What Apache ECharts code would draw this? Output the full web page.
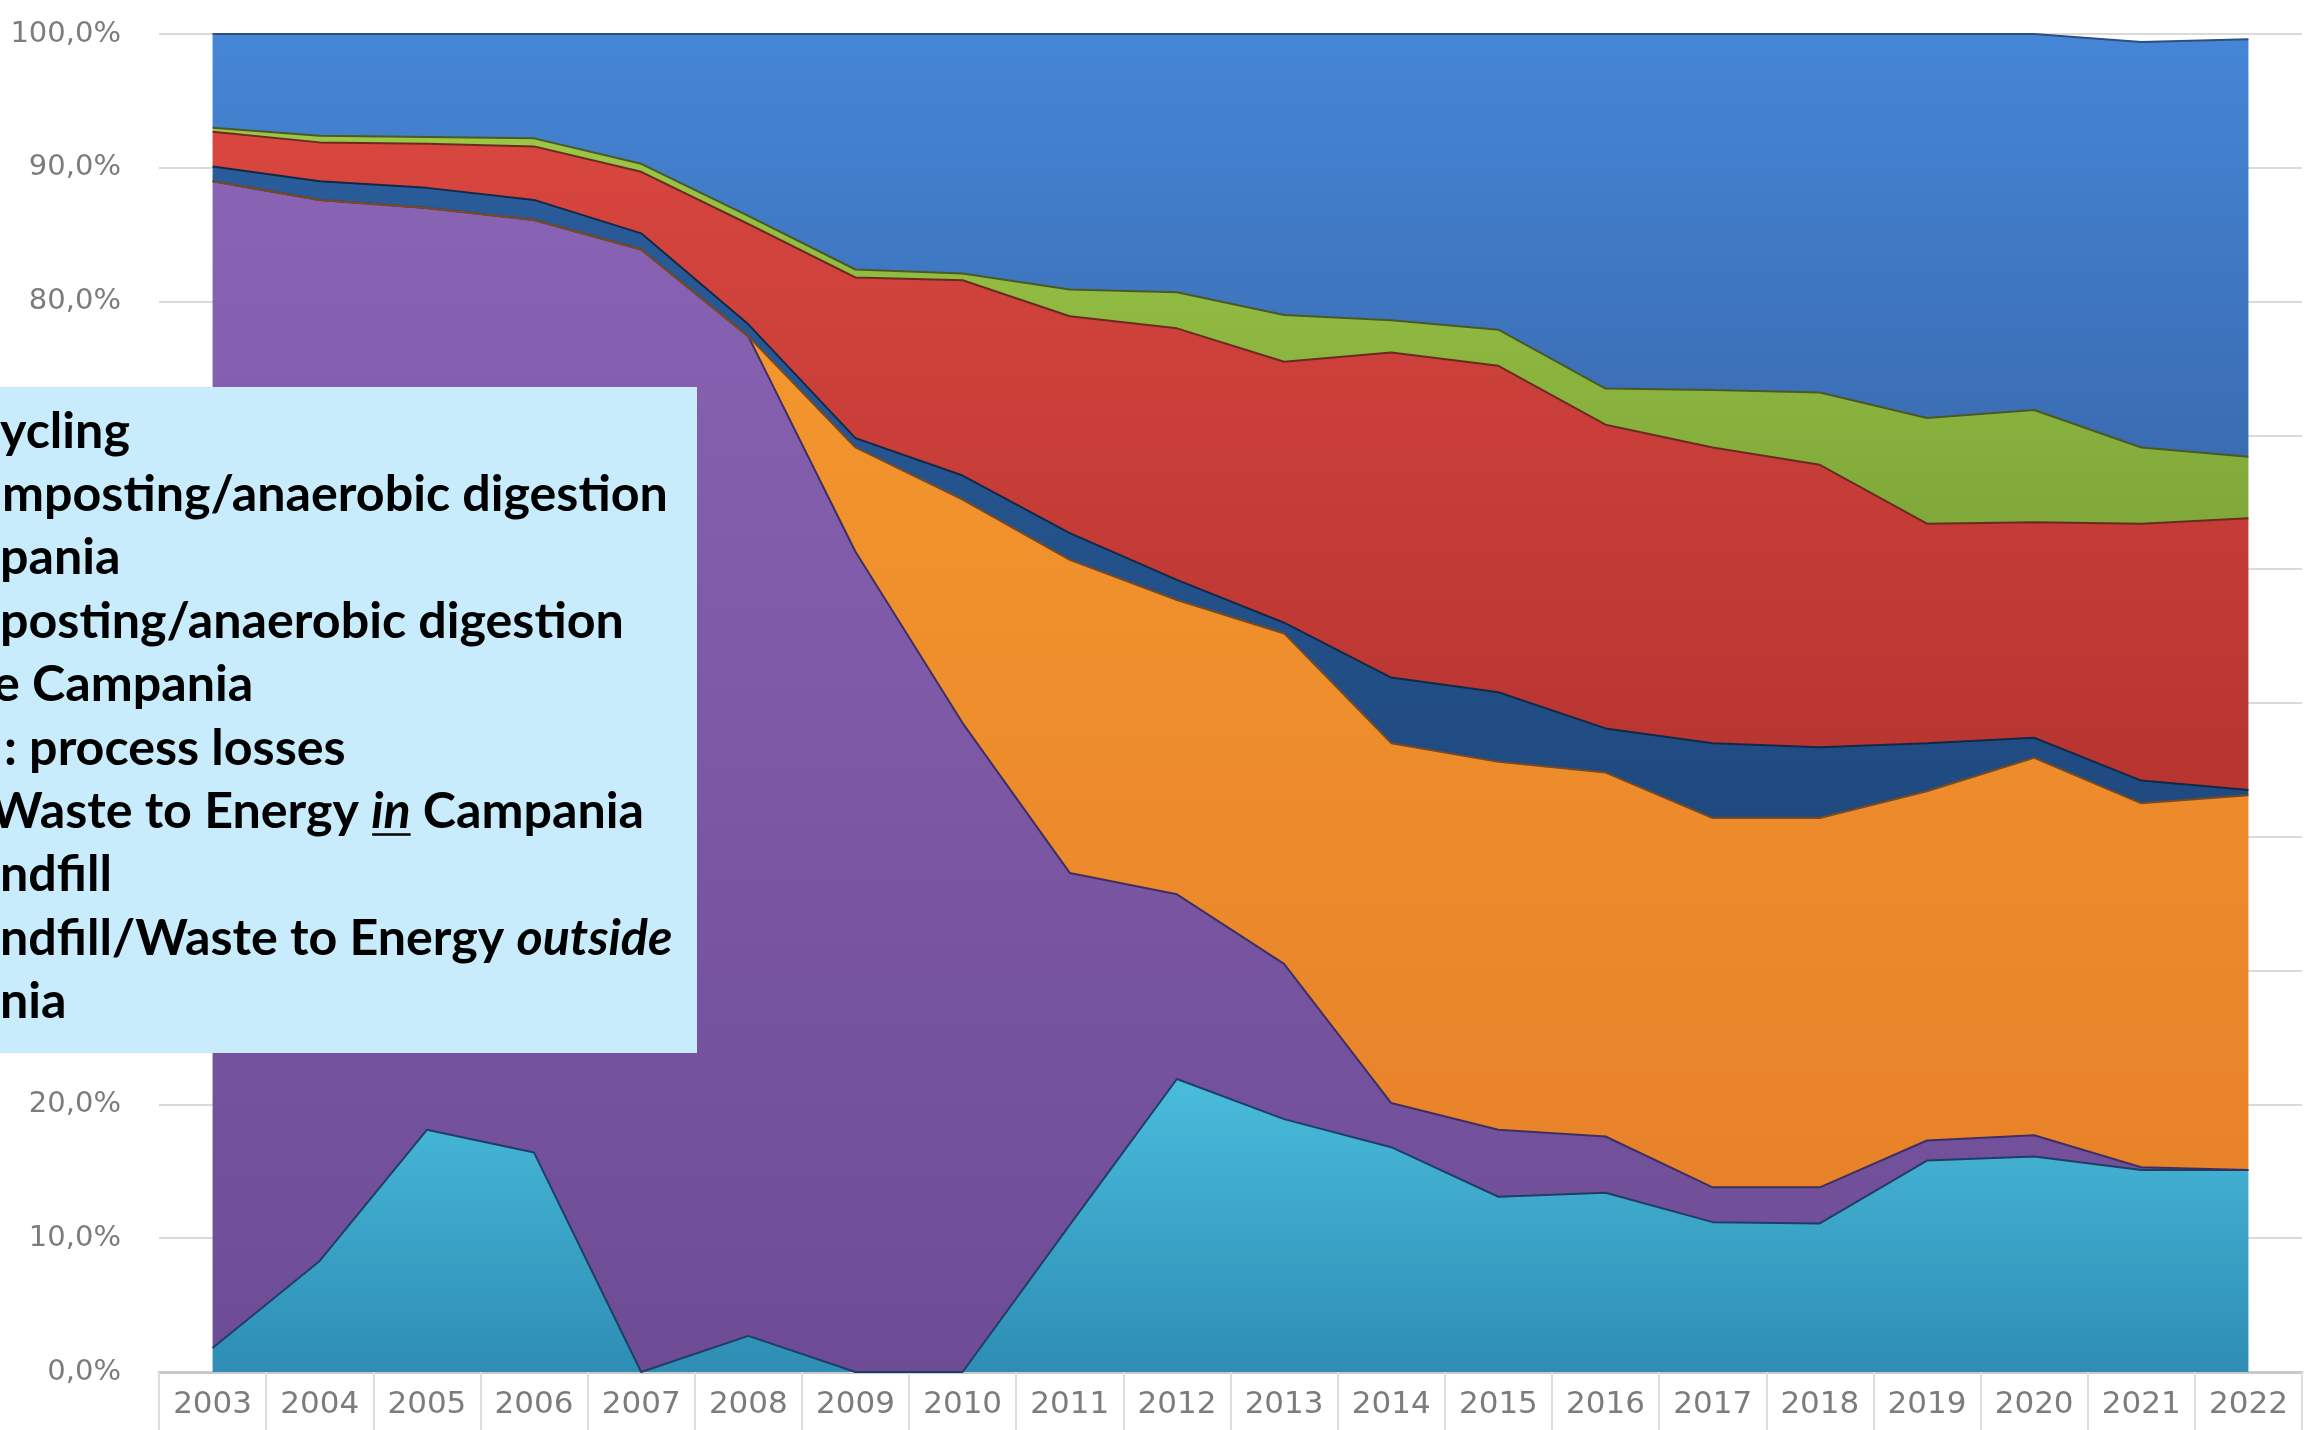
<!DOCTYPE html>
<html>
<head>
<meta charset="utf-8">
<script src="https://cdn.jsdelivr.net/npm/echarts@6/dist/echarts.min.js"></script>
<style>
html,body{margin:0;padding:0;background:#fff;}
#chart{width:2305px;height:1430px;}
</style>
</head>
<body>
<div id="chart"></div>
<script>
// ---------- data ----------
const years = ['2003','2004','2005','2006','2007','2008','2009','2010','2011','2012','2013','2014','2015','2016','2017','2018','2019','2020','2021','2022'];
const yTickLabels = ['0,0%','10,0%','20,0%','30,0%','40,0%','50,0%','60,0%','70,0%','80,0%','90,0%','100,0%'];

// stacked from bottom to top (percent of total)
const outsideCampania = [1.8, 8.3, 18.1, 16.4, 0, 2.7, 0, 0, 11.0, 21.9, 18.9, 16.8, 13.1, 13.4, 11.2, 11.1, 15.8, 16.1, 15.1, 15.1];
const landfill        = [87.2, 79.3, 68.9, 69.7, 83.9, 74.7, 61.3, 48.5, 26.3, 13.8, 11.6, 3.3, 5.0, 4.2, 2.6, 2.7, 1.5, 1.6, 0.2, 0];
const wteCampania     = [0, 0, 0, 0, 0, 0, 7.8, 16.7, 23.4, 22.0, 24.7, 26.9, 27.5, 27.2, 27.6, 27.6, 26.1, 28.2, 27.2, 28.0];
const processLosses   = [1.1, 1.4, 1.5, 1.5, 1.2, 0.9, 0.7, 1.8, 2.0, 1.5, 0.8, 4.9, 5.2, 3.3, 5.6, 5.3, 3.6, 1.5, 1.7, 0.4];
const compostOutside  = [2.6, 2.9, 3.3, 4.0, 4.6, 7.5, 12.0, 14.6, 16.2, 18.8, 19.5, 24.3, 24.4, 22.7, 22.1, 21.1, 16.4, 16.1, 19.2, 20.3];
const compostInside   = [0.3, 0.5, 0.5, 0.6, 0.6, 0.6, 0.6, 0.5, 2.0, 2.7, 3.5, 2.4, 2.7, 2.7, 4.3, 5.4, 7.9, 8.4, 5.7, 4.6];
const recycling       = [7.0, 7.6, 7.7, 7.8, 9.7, 13.6, 17.6, 17.9, 19.1, 19.3, 21.0, 21.4, 22.1, 26.5, 26.6, 26.8, 28.7, 28.1, 30.3, 31.2];

// visible (cropped) legend lines of the overlay box
const legendLines = [
  [['ycling', '']],
  [['mposting/anaerobic digestion', '']],
  [['pania', '']],
  [['posting/anaerobic digestion', '']],
  [['e Campania', '']],
  [[': process losses', '']],
  [['Waste to Energy ', ''], ['in', 'iu'], [' Campania', '']],
  [['ndfill', '']],
  [['ndfill/Waste to Energy ', ''], ['outside', 'i']],
  [['nia', '']]
];

// ---------- styling ----------
const FONT = 'Lato';
const lineOffsets = [0, 2, 0, 0, -7, 4, -10, 0, 0, 0];
const firstBaseline = 449, lineStep = 63.4;

function grad(top, bottom) {
  return new echarts.graphic.LinearGradient(0, 0, 0, 1, [
    { offset: 0, color: top }, { offset: 1, color: bottom }
  ]);
}

const seriesDefs = [
  { name: 'Landfill/Waste to Energy outside Campania', data: outsideCampania, top: '#49BCDC', bottom: '#2E8DB4', line: '#1d3f66' },
  { name: 'Landfill', data: landfill, top: '#8963B4', bottom: '#6E4C95', line: '#3e2f62' },
  { name: 'Waste to Energy in Campania', data: wteCampania, top: '#F59A2E', bottom: '#E8822A', line: '#7a4a20' },
  { name: 'process losses', data: processLosses, top: '#2A5C99', bottom: '#1F4A80', line: '#0f2a48' },
  { name: 'Composting/anaerobic digestion outside Campania', data: compostOutside, top: '#D8463F', bottom: '#B73431', line: '#6a2a22' },
  { name: 'Composting/anaerobic digestion in Campania', data: compostInside, top: '#9CC746', bottom: '#80A83A', line: '#4b5a22' },
  { name: 'Recycling', data: recycling, top: '#4586D6', bottom: '#3A6CB2', line: '#2c4f80' }
];

const chart = echarts.init(document.getElementById('chart'), null, { renderer: 'canvas' });

// measure text for the overlay legend
const mctx = document.createElement('canvas').getContext('2d');
mctx.font = 'bold 100px ' + FONT;
const w100 = mctx.measureText('mposting/anaerobic digestion').width;
const fs = Math.round(100 * 666 / w100 * 10) / 10;

const graphics = [{
  type: 'rect', z: 100,
  shape: { x: 0, y: 387, width: 697, height: 666 },
  style: { fill: '#C8ECFC' }
}];

legendLines.forEach((parts, i) => {
  const baseline = firstBaseline + i * lineStep;
  const topY = baseline - 0.85 * fs;
  let x = lineOffsets[i];
  parts.forEach(([txt, st]) => {
    const italic = st.indexOf('i') >= 0;
    mctx.font = (italic ? 'italic ' : '') + 'bold ' + fs + 'px ' + FONT;
    const w = mctx.measureText(txt).width;
    graphics.push({
      type: 'text', z: 101, x: x, y: topY,
      style: {
        text: txt, fill: '#000', fontFamily: FONT, fontWeight: 'bold',
        fontStyle: italic ? 'italic' : 'normal', fontSize: fs,
        textAlign: 'left', verticalAlign: 'top'
      }
    });
    if (st.indexOf('u') >= 0) {
      const uy = baseline + fs * 0.1;
      graphics.push({
        type: 'line', z: 101,
        shape: { x1: x + 1, y1: uy, x2: x + w, y2: uy },
        style: { stroke: '#000', lineWidth: 2.5 }
      });
    }
    x += w;
  });
});

const option = {
  animation: false,
  backgroundColor: '#ffffff',
  grid: { left: 159, right: 3, top: 34, bottom: 58, containLabel: false },
  xAxis: {
    type: 'category', data: years, boundaryGap: true,
    axisLine: { show: true, lineStyle: { color: '#c8c8c8', width: 3 } },
    axisTick: { show: true, interval: 0, length: 58, lineStyle: { color: '#dedede', width: 2 } },
    axisLabel: { interval: 0, margin: 17, fontFamily: 'DejaVu Sans', fontSize: 31, color: '#7c7c7c' },
    splitLine: { show: false }
  },
  yAxis: {
    type: 'value', min: 0, max: 100, interval: 10,
    axisLine: { show: false }, axisTick: { show: false },
    splitLine: { show: true, lineStyle: { color: '#dadada', width: 2 } },
    axisLabel: {
      margin: 38, fontFamily: 'DejaVu Sans', fontSize: 29, color: '#7c7c7c',
      formatter: v => yTickLabels[Math.round(v / 10)]
    }
  },
  series: seriesDefs.map(s => ({
    name: s.name, type: 'line', stack: 'total', data: s.data,
    symbol: 'none', smooth: false, clip: true,
    lineStyle: { color: s.line, width: 2 },
    areaStyle: { color: grad(s.top, s.bottom), opacity: 1 },
    emphasis: { disabled: true }
  })),
  graphic: graphics
};

chart.setOption(option);
</script>
</body>
</html>
